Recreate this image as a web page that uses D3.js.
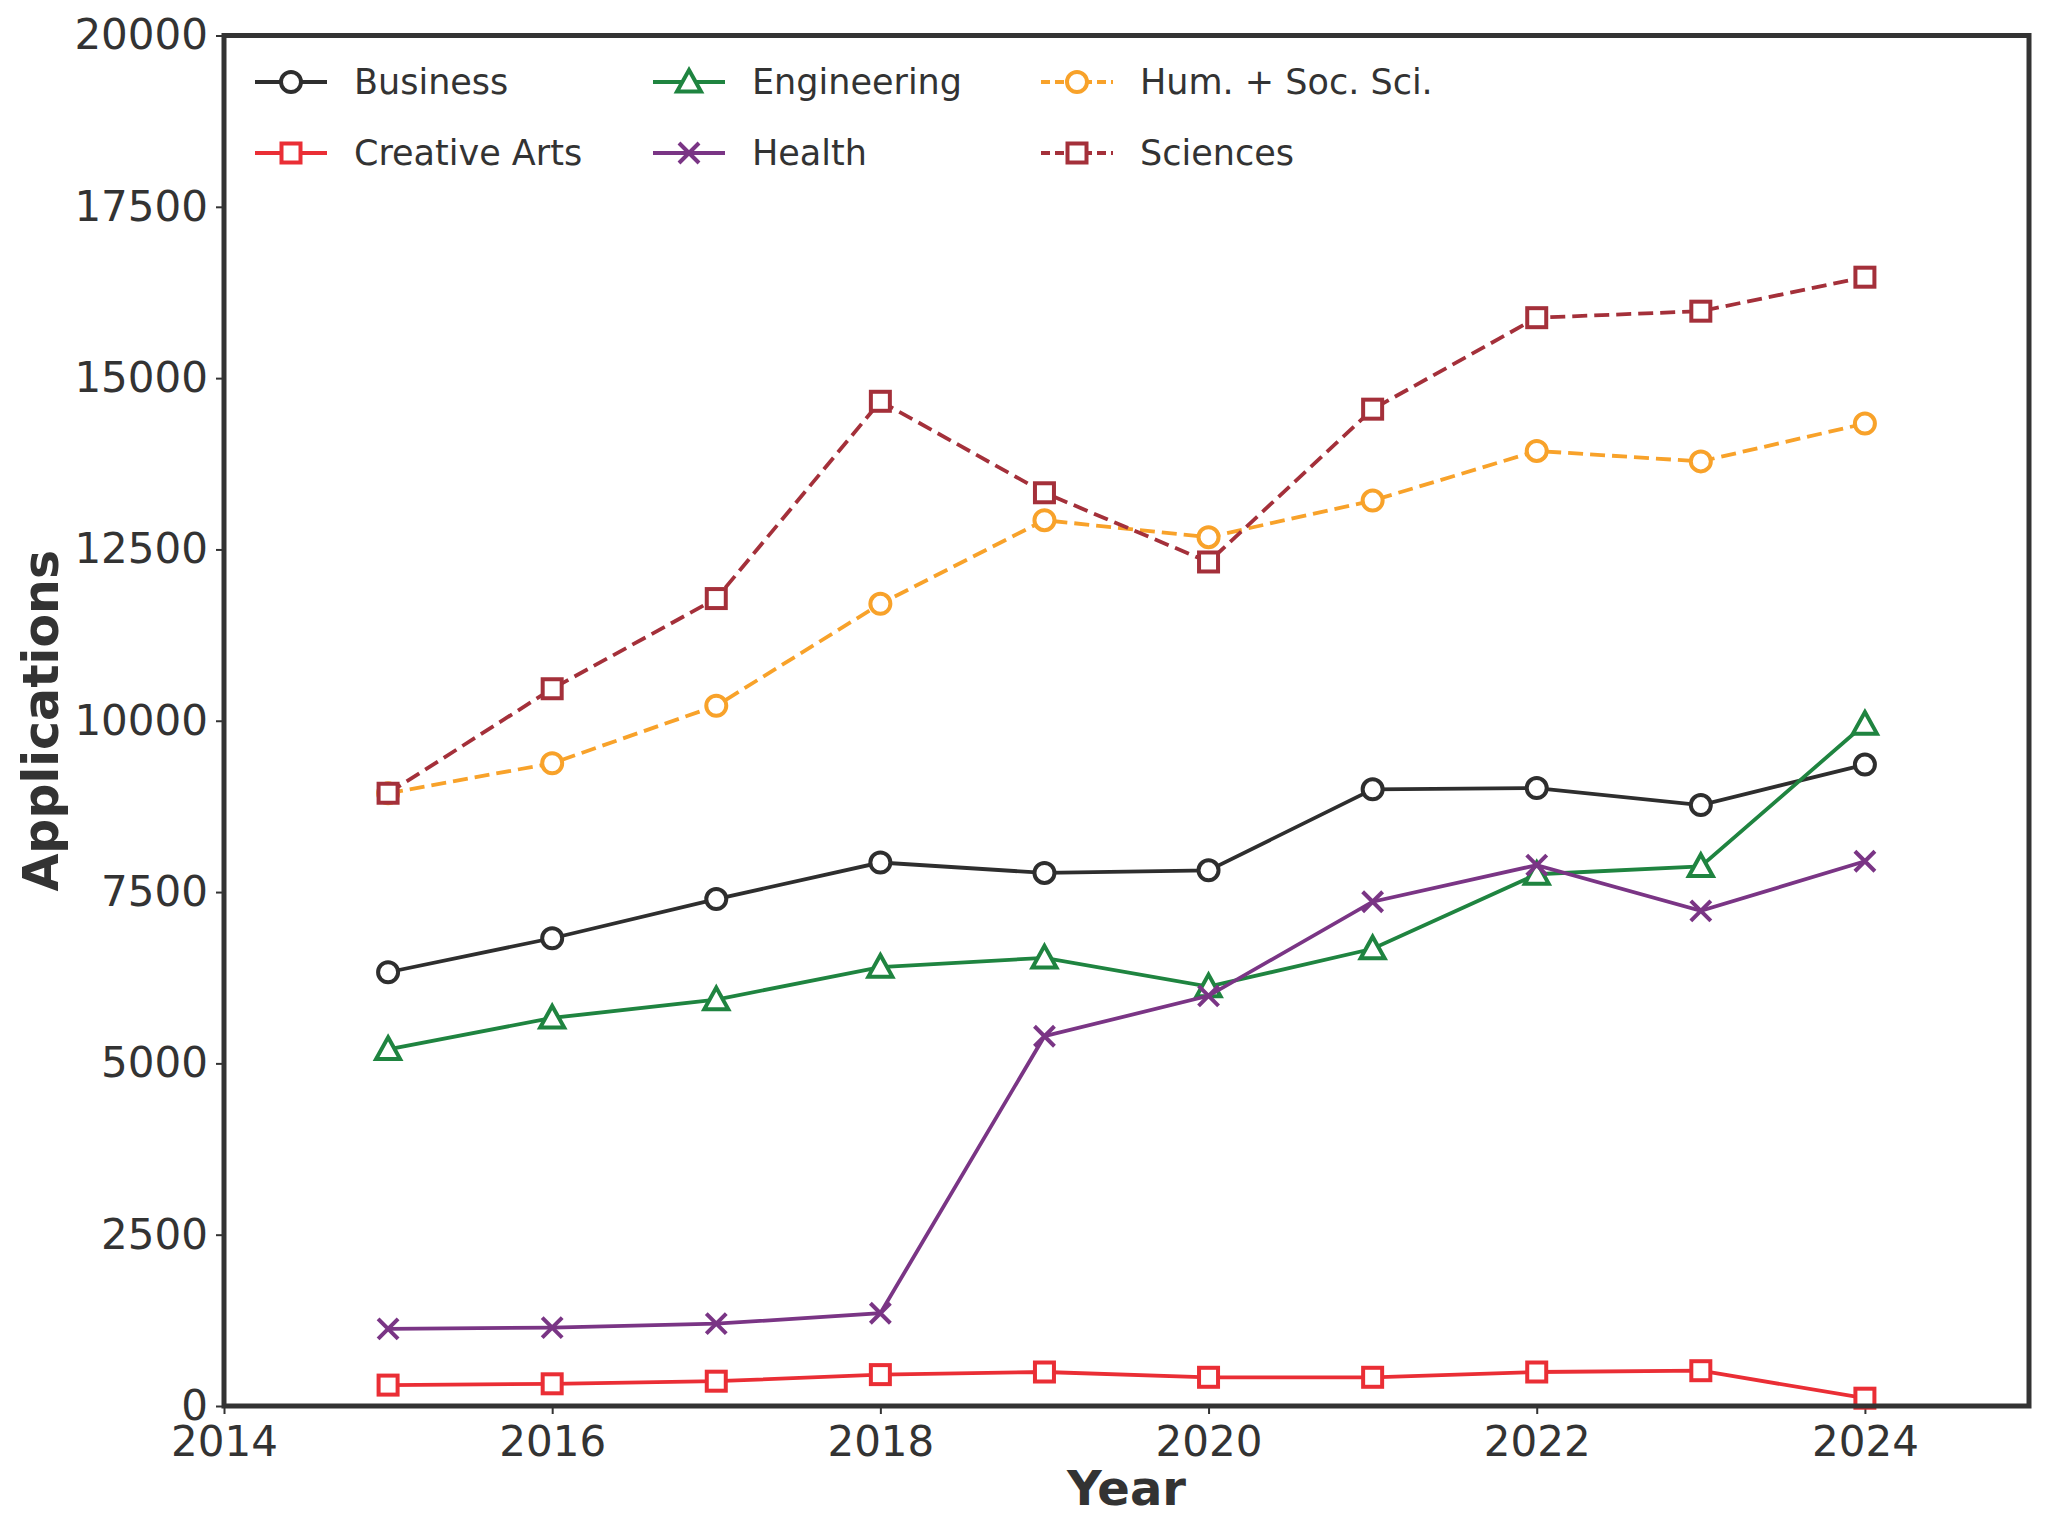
<!DOCTYPE html>
<html>
<head>
<meta charset="utf-8">
<script src="https://cdn.jsdelivr.net/npm/d3@7"></script>
<style>
  body { margin: 0; background: #fff; }
  text { font-family: "DejaVu Sans", sans-serif; fill: #333; }
</style>
</head>
<body>
<script>
// data
const years = [2015, 2016, 2017, 2018, 2019, 2020, 2021, 2022, 2023, 2024];
const business     = [6330, 6826, 7398, 7931, 7779, 7817, 8999, 9018, 8770, 9361];
const creativeArts = [305, 324, 362, 458, 496, 419, 419, 496, 515, 114];
const engineering  = [5205, 5663, 5930, 6406, 6540, 6120, 6673, 7760, 7874, 9952];
const health       = [1125, 1144, 1201, 1354, 5396, 5986, 7359, 7893, 7226, 7950];
const humSoc       = [8942, 9380, 10219, 11706, 12927, 12679, 13213, 13937, 13785, 14337];
const sciences     = [8942, 10467, 11783, 14662, 13327, 12317, 14547, 15882, 15977, 16473];
const xTicks = [2014, 2016, 2018, 2020, 2022, 2024];
const yTicks = [0, 2500, 5000, 7500, 10000, 12500, 15000, 17500, 20000];

// series setup (order = draw order = legend order, column-major)
const series = [
  {name: "Business",          values: business,     color: "#2e2e2e", marker: "circle",   dash: null},
  {name: "Creative Arts",     values: creativeArts, color: "#ea2e35", marker: "square",   dash: null},
  {name: "Engineering",       values: engineering,  color: "#1f8440", marker: "triangle", dash: null},
  {name: "Health",            values: health,       color: "#7a3585", marker: "x",        dash: null},
  {name: "Hum. + Soc. Sci.",  values: humSoc,       color: "#f8a22a", marker: "circle",   dash: "15,7"},
  {name: "Sciences",          values: sciences,     color: "#a4303a", marker: "square",   dash: "15,7"}
];

const W = 2048, H = 1536;
const svg = d3.select("body").append("svg").attr("width", W).attr("height", H);

const mLeft = 224, mRight = 2029, mTop = 35.5, mBottom = 1406;
const x = d3.scaleLinear().domain([2014, 2025]).range([mLeft, mRight]);
const y = d3.scaleLinear().domain([0, 20000]).range([mBottom, mTop]);

// axes
const xAxis = svg.append("g").attr("transform", "translate(0," + mBottom + ")")
  .call(d3.axisBottom(x).tickValues(xTicks).tickFormat(d3.format("d")).tickSize(8).tickSizeOuter(0).tickPadding(12));
const yAxis = svg.append("g").attr("transform", "translate(" + mLeft + ",0)")
  .call(d3.axisLeft(y).tickValues(yTicks).tickFormat(d3.format("d")).tickSize(8).tickSizeOuter(0).tickPadding(8));
[xAxis, yAxis].forEach(a => {
  a.select(".domain").remove();
  a.selectAll(".tick line").attr("stroke", "#333").attr("stroke-width", 2);
  a.selectAll(".tick text").attr("font-size", 42).attr("fill", "#333")
    .style("font-family", "DejaVu Sans, sans-serif");
});

// symbol helper
function drawMarker(g, type, cx, cy, color) {
  if (type === "circle") {
    g.append("circle").attr("cx", cx).attr("cy", cy).attr("r", 10)
      .attr("fill", "#fff").attr("stroke", color).attr("stroke-width", 4);
  } else if (type === "square") {
    g.append("rect").attr("x", cx - 9.5).attr("y", cy - 9.5).attr("width", 19).attr("height", 19)
      .attr("fill", "#fff").attr("stroke", color).attr("stroke-width", 4);
  } else if (type === "triangle") {
    const r = 12;
    g.append("path")
      .attr("d", "M" + cx + "," + (cy - r) + "L" + (cx + r) + "," + (cy + r * 0.8) + "L" + (cx - r) + "," + (cy + r * 0.8) + "Z")
      .attr("fill", "#fff").attr("stroke", color).attr("stroke-width", 4);
  } else if (type === "x") {
    const r = 10;
    g.append("path")
      .attr("d", "M" + (cx - r) + "," + (cy - r) + "L" + (cx + r) + "," + (cy + r) + "M" + (cx - r) + "," + (cy + r) + "L" + (cx + r) + "," + (cy - r))
      .attr("fill", "none").attr("stroke", color).attr("stroke-width", 4);
  }
}

const line = d3.line().x(d => x(d[0])).y(d => y(d[1]));

const plot = svg.append("g");
series.forEach(s => {
  const pts = years.map((yr, i) => [yr, s.values[i]]);
  const g = plot.append("g");
  g.append("path").attr("d", line(pts))
    .attr("fill", "none").attr("stroke", s.color).attr("stroke-width", 3.8)
    .attr("stroke-dasharray", s.dash);
  pts.forEach(p => drawMarker(g, s.marker, x(p[0]), y(p[1]), s.color));
});

// frame
svg.append("rect").attr("x", mLeft).attr("y", mTop).attr("width", mRight - mLeft).attr("height", mBottom - mTop)
  .attr("fill", "none").attr("stroke", "#333").attr("stroke-width", 5);

// axis labels
svg.append("text").attr("x", (mLeft + mRight) / 2).attr("y", 1505)
  .attr("text-anchor", "middle").attr("font-size", 48).attr("font-weight", "bold").text("Year");
svg.append("text").attr("transform", "translate(58," + (mTop + mBottom) / 2 + ") rotate(-90)")
  .attr("text-anchor", "middle").attr("font-size", 49).attr("font-weight", "bold").text("Applications");

// legend
const legCols = [255, 653, 1041];
const legRows = [82, 153];
series.forEach((s, i) => {
  const cx = legCols[Math.floor(i / 2)], cy = legRows[i % 2];
  const g = svg.append("g");
  g.append("line").attr("x1", cx).attr("x2", cx + 72).attr("y1", cy).attr("y2", cy)
    .attr("stroke", s.color).attr("stroke-width", 3.8).attr("stroke-dasharray", s.dash ? "9,5" : null);
  drawMarker(g, s.marker, cx + 36, cy, s.color);
  g.append("text").attr("x", cx + 99).attr("y", cy).attr("dy", "0.35em")
    .attr("font-size", 35).text(s.name);
});
</script>
</body>
</html>
